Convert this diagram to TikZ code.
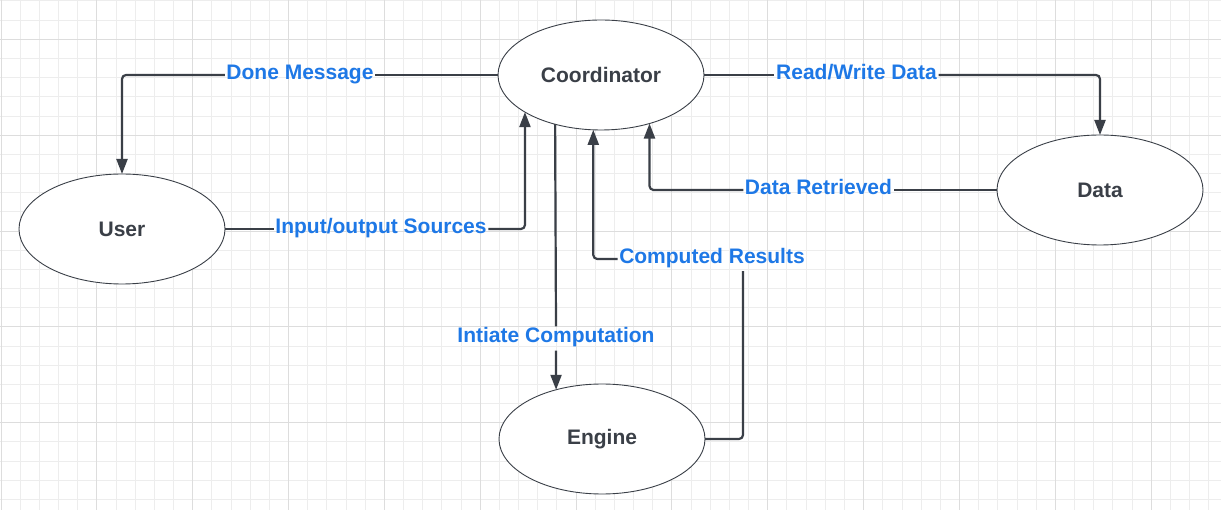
\documentclass[tikz,border=0pt]{standalone}
\usepackage{fontspec}
\setmainfont{Liberation Sans}
\usetikzlibrary{arrows.meta,shapes.geometric}
\definecolor{gridminor}{RGB}{237,237,237}
\definecolor{gridmajor}{RGB}{221,221,221}
\definecolor{ink}{RGB}{58,63,71}
\definecolor{lblue}{RGB}{30,120,230}
\tikzset{
  proc/.style={ellipse, draw=ink, line width=0.9pt, fill=white,
    minimum width=206pt, minimum height=110pt, inner sep=0pt, outer sep=0pt,
    text=ink, font=\fontsize{21}{25}\selectfont\bfseries},
  conn/.style={draw=ink, line width=2.2pt, rounded corners=4pt},
  arr/.style={conn, -{Triangle[length=15pt,width=11pt]}},
  lbl/.style={text=lblue, font=\fontsize{21}{25}\selectfont\bfseries,
    inner xsep=1.5pt, inner ysep=1.5pt, text height=15pt, text depth=6pt},
  gminor/.style={draw=gridminor, line width=1pt},
  gmajor/.style={draw=gridmajor, line width=1pt}
}
\begin{document}
\begin{tikzpicture}[x=1pt,y=-1pt]
\useasboundingbox (0,0) rectangle (1221,510);
\fill[white] (0,0) rectangle (1221,510);
% grid
\foreach \k in {0,...,63} \draw[gminor] ({1+19.17*\k},0) -- ({1+19.17*\k},510);
\foreach \k in {0,...,26} \draw[gminor] (0,{1+19.17*\k}) -- (1221,{1+19.17*\k});
\foreach \k in {0,5,...,60} \draw[gmajor] ({1+19.17*\k},0) -- ({1+19.17*\k},510);
\foreach \k in {2,7,...,22} \draw[gmajor] (0,{1+19.17*\k}) -- (1221,{1+19.17*\k});

% nodes
\node[proc] (coord) at (601,75) {Coordinator};
\node[proc] (user) at (122,229) {User};
\node[proc] (data) at (1100,190) {Data};
\node[proc] (engine) at (602,439) {Engine};

% labels
\node[lbl] (dm) at (300,75) {Done Message};
\node[lbl] (rw) at (856.5,75) {Read/Write Data};
\node[lbl] (dr) at (818.5,190) {Data Retrieved};
\node[lbl] (io) at (381,229) {Input/output Sources};
\node[lbl] (ic) at (556,338.5) {Intiate Computation};
\node[lbl] (cr) at (712,259) {Computed Results};
\coordinate (crturn) at (743,259);

% connectors
\draw[conn] (coord.west) -- (dm.east);
\draw[arr] (dm.west) -| (user.north);

\draw[conn] (coord.east) -- (rw.west);
\draw[arr] (rw.east) -| (data.north);

\draw[conn] (data.west) -- (dr.east);
\draw[arr] (dr.west) -| (coord.315.4);

\draw[conn] (user.east) -- (io.west);
\draw[arr] (io.east) -| (coord.206.0);

\draw[conn] (coord.227.7) -- (ic.north);
\draw[arr] (ic.south) -- (engine.133.1);

\draw[conn] (engine.east) -| (crturn |- cr.south);
\draw[arr] (cr.west) -| (coord.262.7);
\end{tikzpicture}
\end{document}
